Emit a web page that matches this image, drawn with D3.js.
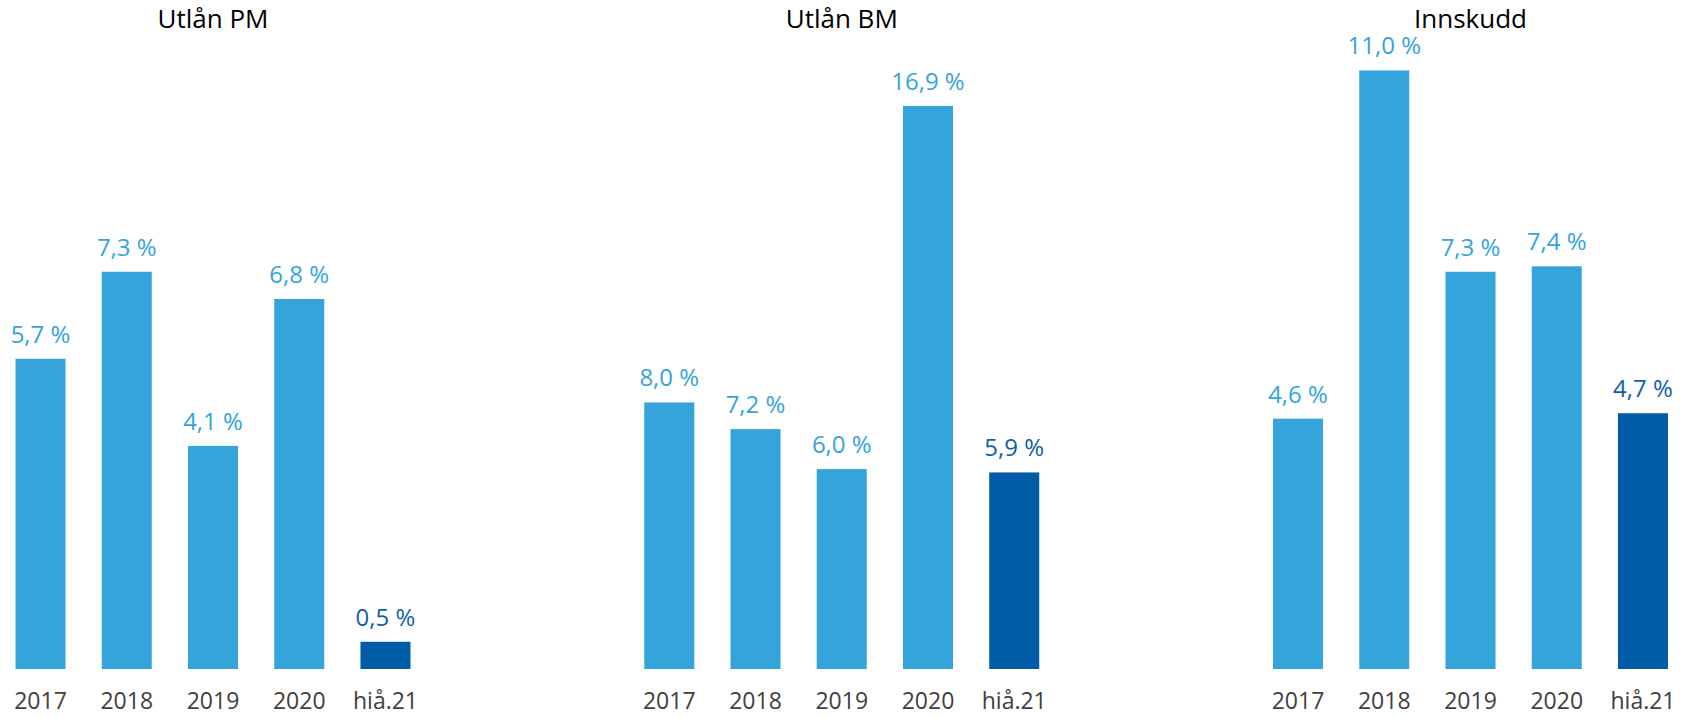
<!DOCTYPE html>
<html>
<head>
<meta charset="utf-8">
<script src="https://cdn.jsdelivr.net/npm/d3@7"></script>
<style>
  html, body { margin: 0; padding: 0; background: #fff; }
  svg { display: block; }
</style>
</head>
<body>
<div id="chart"></div>
<script>
// Données
const categories = ["2017", "2018", "2019", "2020", "hiå.21"];
const titles = ["Utlån PM", "Utlån BM", "Innskudd"];
const utlanPM = [5.7, 7.3, 4.1, 6.8, 0.5];
const utlanBM = [8.0, 7.2, 6.0, 16.9, 5.9];
const innskudd = [4.6, 11.0, 7.3, 7.4, 4.7];
const yMax = [12, 19.6, 12];

const series = [utlanPM, utlanBM, innskudd];

const width = 1688;
const height = 717;

const lightBlue = "#34a4db";
const darkBlue = "#005ca6";

const svg = d3.select("#chart")
    .append("svg")
    .attr("width", width)
    .attr("height", height);

const panelStep = 628.75;
const plotTop = 16;
const plotBottom = 669;

const x = d3.scaleBand()
    .domain(categories)
    .range([-2.6, 428.6])
    .paddingInner(0.42)
    .paddingOuter(0.21);

const fmt = v => d3.format(".1f")(v).replace(".", ",") + " %";

series.forEach((values, i) => {
    const g = svg.append("g")
        .attr("transform", `translate(${i * panelStep}, 0)`);

    const y = d3.scaleLinear()
        .domain([0, yMax[i]])
        .range([plotBottom, plotTop]);

    const data = categories.map((c, j) => ({ cat: c, value: values[j], last: j === categories.length - 1 }));

    // Titre
    g.append("text")
        .attr("x", (x.range()[0] + x.range()[1]) / 2)
        .attr("y", 28)
        .attr("text-anchor", "middle")
        .attr("font-family", "Open Sans")
        .attr("font-size", "26px")
        .attr("fill", "#000")
        .text(titles[i]);

    // Barres
    g.selectAll("rect")
        .data(data)
        .enter().append("rect")
        .attr("x", d => x(d.cat))
        .attr("y", d => y(d.value))
        .attr("width", x.bandwidth())
        .attr("height", d => plotBottom - y(d.value))
        .attr("fill", d => d.last ? darkBlue : lightBlue);

    // Etiquettes de valeur
    g.selectAll("text.val")
        .data(data)
        .enter().append("text")
        .attr("class", "val")
        .attr("x", d => x(d.cat) + x.bandwidth() / 2)
        .attr("y", d => y(d.value) - 16)
        .attr("text-anchor", "middle")
        .attr("font-family", "Open Sans")
        .attr("font-size", "24px")
        .attr("fill", d => d.last ? "#0f5fa8" : lightBlue)
        .text(d => fmt(d.value));

    // Axe des catégories
    const axis = g.append("g")
        .attr("transform", `translate(0, ${plotBottom})`)
        .call(d3.axisBottom(x).tickSize(0).tickPadding(0));
    axis.select(".domain").remove();
    axis.selectAll("text")
        .attr("y", 40)
        .attr("dy", null)
        .attr("font-family", "Open Sans")
        .attr("font-size", "23px")
        .attr("fill", "#404040");
});
</script>
</body>
</html>
